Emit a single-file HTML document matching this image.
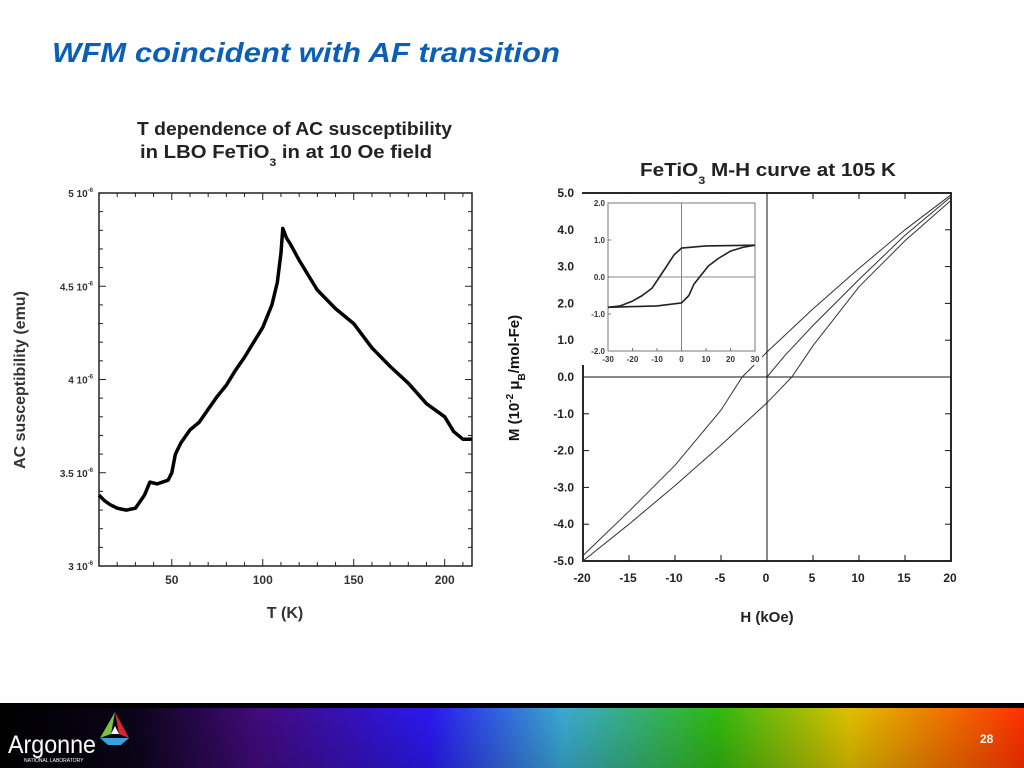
<!DOCTYPE html>
<html><head><meta charset="utf-8"><style>
html,body{margin:0;padding:0;background:#fff;}
svg{display:block;font-family:"Liberation Sans",sans-serif;}
</style></head><body>
<svg width="1024" height="768" viewBox="0 0 1024 768">
<defs>
<linearGradient id="rb" x1="0" x2="1" y1="0" y2="0">
<stop offset="0" stop-color="#000"/><stop offset="0.13" stop-color="#0a0418"/><stop offset="0.25" stop-color="#420a7a"/>
<stop offset="0.42" stop-color="#2a18f0"/><stop offset="0.55" stop-color="#3aaad0"/><stop offset="0.7" stop-color="#30b810"/>
<stop offset="0.83" stop-color="#e0c000"/><stop offset="1" stop-color="#ff3000"/></linearGradient>
<linearGradient id="fade" x1="0" x2="0" y1="0" y2="1"><stop offset="0" stop-color="#000" stop-opacity="0"/><stop offset="1" stop-color="#000" stop-opacity="0.15"/></linearGradient>
</defs>
<text x="52" y="62" font-size="28" font-weight="bold" font-style="italic" fill="#0b5fb8" textLength="508" lengthAdjust="spacingAndGlyphs">WFM coincident with AF transition</text>

<g font-weight="bold" font-size="18" fill="#222">
<text x="137" y="135" textLength="315" lengthAdjust="spacingAndGlyphs">T dependence of AC susceptibility</text>
<text x="140" y="158" textLength="292" lengthAdjust="spacingAndGlyphs">in LBO FeTiO<tspan font-size="11" dy="8">3</tspan><tspan dy="-8"> in at 10 Oe field</tspan></text>
</g>
<g font-weight="bold" font-size="18" fill="#222">
<text x="640" y="176" textLength="256" lengthAdjust="spacingAndGlyphs">FeTiO<tspan font-size="11" dy="8">3</tspan><tspan dy="-8"> M-H curve at 105 K</tspan></text>
</g>

<g id="left"></g>
<g id="right"></g>

<g>
<rect x="0" y="703" width="1024" height="65" fill="url(#rb)"/>
<rect x="0" y="703" width="1024" height="5" fill="#000"/>
<rect x="0" y="708" width="1024" height="60" fill="url(#fade)"/>
<text x="8" y="753" font-size="25" fill="#fff" textLength="88" lengthAdjust="spacingAndGlyphs">Argonne</text>
<text x="24" y="762" font-size="5" fill="#fff">NATIONAL LABORATORY</text>
<g>
<polygon points="115,712 100,738 111,734" fill="#7bc143"/>
<polygon points="115,712 129,738 119,734" fill="#d8262e"/>
<polygon points="111,734 119,734 115,726" fill="#fff"/>
<polygon points="100,738 129,738 121,745 108,745" fill="#3aa0e0"/>
</g>
<text x="980" y="743" font-size="12" font-weight="bold" fill="#fff">28</text>
</g>
</svg>
<script>
// Left chart data
const tempK = [10,13,16,20,25,30,35,38,42,48,50,52,55,60,65,70,75,80,85,90,95,100,105,108,110,111,113,115,120,125,130,140,150,160,170,180,190,200,205,210,215];
const chiE6 = [3.38,3.35,3.33,3.31,3.30,3.31,3.38,3.45,3.44,3.46,3.50,3.60,3.66,3.73,3.77,3.84,3.91,3.97,4.05,4.12,4.20,4.28,4.40,4.52,4.68,4.81,4.76,4.73,4.64,4.56,4.48,4.38,4.30,4.17,4.07,3.98,3.87,3.80,3.72,3.68,3.68];
const leftXTicks = [50,100,150,200];
const leftYTicks = [3,3.5,4,4.5,5];
const leftYLabels = ["3 10","3.5 10","4 10","4.5 10","5 10"];
// Right chart data
const hDesc = [20,15,10,5,0,-2.7,-5,-10,-15,-20];
const mDesc = [4.95,4.0,2.95,1.85,0.68,0,-0.9,-2.4,-3.65,-4.85];
const hAsc = [-20,-15,-10,-5,0,2.7,5,10,15,20];
const mAsc = [-5.0,-4.0,-2.95,-1.85,-0.7,0,0.85,2.45,3.7,4.8];
const hVirgin = [0,2,5,10,15,20];
const mVirgin = [0,0.6,1.4,2.65,3.85,4.9];
const insetHDesc = [30,20,10,0,-3,-6,-9,-12,-16,-20,-25,-30];
const insetMDesc = [0.86,0.85,0.84,0.78,0.6,0.3,0,-0.3,-0.5,-0.65,-0.78,-0.82];
const insetHAsc = [-30,-20,-10,0,3,5,8,11,15,20,25,30];
const insetMAsc = [-0.82,-0.8,-0.78,-0.7,-0.5,-0.2,0.05,0.3,0.5,0.7,0.8,0.86];
const rightXTicks = [-20,-15,-10,-5,0,5,10,15,20];
const rightYTicks = [-5,-4,-3,-2,-1,0,1,2,3,4,5];
const insetXTicks = [-30,-20,-10,0,10,20,30];
const insetYTicks = [-2,-1,0,1,2];

const NS="http://www.w3.org/2000/svg";
function mk(parent,tag,attrs,text){const e=document.createElementNS(NS,tag);for(const k in attrs)e.setAttribute(k,attrs[k]);if(text!==undefined)e.textContent=text;parent.appendChild(e);return e;}
function lin(d0,d1,r0,r1){return v=>r0+(v-d0)/(d1-d0)*(r1-r0);}
function pathOf(xs,ys,fx,fy){return xs.map((x,i)=>(i?"L":"M")+fx(x).toFixed(1)+","+fy(ys[i]).toFixed(1)).join("");}

// LEFT
(function(){
const g=document.getElementById('left');
const L=99,R=472,T=193,B=566;
const x=lin(10,215,L,R), y=lin(3,5,B,T);
let e=mk(g,'rect',{x:L,y:T,width:R-L,height:B-T,fill:'none',stroke:'#222','stroke-width':1.5});

for(let t=20;t<=210;t+=10){const big=t%50===0;mk(g,'line',{x1:x(t),x2:x(t),y1:B,y2:B-(big?7:4),stroke:'#222'});mk(g,'line',{x1:x(t),x2:x(t),y1:T,y2:T+(big?7:4),stroke:'#222'});}
for(let v=3.1;v<5;v+=0.1){const big=Math.abs(v*2-Math.round(v*2))<0.01;mk(g,'line',{x1:L,x2:L+(big?7:4),y1:y(v),y2:y(v),stroke:'#222'});mk(g,'line',{x1:R,x2:R-(big?7:4),y1:y(v),y2:y(v),stroke:'#222'});}
leftXTicks.forEach(t=>{e=mk(g,'text',{x:x(t),y:B+18,'font-size':12,'font-weight':'bold','text-anchor':'middle',fill:'#333'},t);
});
leftYTicks.forEach((v,i)=>{e=mk(g,'text',{x:L-6,y:y(v)+4,'font-size':10,'font-weight':'bold','text-anchor':'end',fill:'#333'});
mk(e,'tspan',{},leftYLabels[i]);mk(e,'tspan',{'font-size':6,dy:-5},'-6');
});
e=mk(g,'path',{d:pathOf(tempK,chiE6,x,y),fill:'none',stroke:'#000','stroke-width':3.5,'stroke-linejoin':'round'});

e=mk(g,'text',{x:285,y:618,'font-size':16,'font-weight':'bold','text-anchor':'middle',fill:'#333'},'T (K)');

e=mk(g,'text',{x:0,y:0,'font-size':16,'font-weight':'bold','text-anchor':'middle',fill:'#333',transform:'translate(25,380) rotate(-90)'},'AC susceptibility (emu)');

})();

// RIGHT
(function(){
const g=document.getElementById('right');
const L=583,R=951,T=193,B=561;
const x=lin(-20,20,L,R), y=lin(-5,5,B,T);
let e=mk(g,'rect',{x:L,y:T,width:R-L,height:B-T,fill:'none',stroke:'#111','stroke-width':1.8});

mk(g,'line',{x1:L,x2:R,y1:y(0),y2:y(0),stroke:'#111','stroke-width':1});
rightXTicks.forEach(t=>{mk(g,'line',{x1:x(t),x2:x(t),y1:B,y2:B-6,stroke:'#111'});mk(g,'line',{x1:x(t),x2:x(t),y1:T,y2:T+6,stroke:'#111'});
e=mk(g,'text',{x:x(t)-1,y:B+21,'font-size':12,'font-weight':'bold','text-anchor':'middle',fill:'#222'},t);
});
rightYTicks.forEach(v=>{mk(g,'line',{x1:L,x2:L+6,y1:y(v),y2:y(v),stroke:'#111'});mk(g,'line',{x1:R,x2:R-6,y1:y(v),y2:y(v),stroke:'#111'});
e=mk(g,'text',{x:L-9,y:y(v)+4,'font-size':12,'font-weight':'bold','text-anchor':'end',fill:'#222'},v.toFixed(1));
});
[[hDesc,mDesc,'descending-branch'],[hAsc,mAsc,'ascending-branch'],[hVirgin,mVirgin,'virgin-curve']].forEach(s=>{
e=mk(g,'path',{d:pathOf(s[0],s[1],x,y),fill:'none',stroke:'#333','stroke-width':1});
});
e=mk(g,'text',{x:767,y:622,'font-size':15,'font-weight':'bold','text-anchor':'middle',fill:'#222'},'H (kOe)');

e=mk(g,'text',{x:0,y:0,'font-size':15,'font-weight':'bold','text-anchor':'middle',fill:'#111',transform:'translate(519,378) rotate(-90)'});
mk(e,'tspan',{},'M (10');mk(e,'tspan',{'font-size':10,dy:-6},'-2');mk(e,'tspan',{dy:6},' μ');mk(e,'tspan',{'font-size':10,dy:6},'B');mk(e,'tspan',{dy:-6},'/mol-Fe)');

// inset
const iL=608,iR=755,iT=203,iB=351;
const ix=lin(-30,30,iL,iR), iy=lin(-2,2,iB,iT);
const ig=mk(g,'g',{});

mk(ig,'rect',{x:iL-28,y:T+1,width:iR-iL+35,height:iB-T+13,fill:'#fff'});
mk(ig,'rect',{x:iL,y:iT,width:iR-iL,height:iB-iT,fill:'none',stroke:'#777','stroke-width':1});
mk(ig,'line',{x1:ix(0),x2:ix(0),y1:iT,y2:iB,stroke:'#888'});
mk(ig,'line',{x1:iL,x2:iR,y1:iy(0),y2:iy(0),stroke:'#888'});
insetXTicks.forEach(t=>{mk(ig,'line',{x1:ix(t),x2:ix(t),y1:iB,y2:iB-3,stroke:'#777'});
e=mk(ig,'text',{x:ix(t),y:iB+11,'font-size':8,'font-weight':'bold','text-anchor':'middle',fill:'#333'},t);
});
insetYTicks.forEach(v=>{mk(ig,'line',{x1:iL,x2:iL+3,y1:iy(v),y2:iy(v),stroke:'#777'});
e=mk(ig,'text',{x:iL-3,y:iy(v)+3,'font-size':8,'font-weight':'bold','text-anchor':'end',fill:'#333'},v.toFixed(1));
});
[[insetHDesc,insetMDesc,'inset-descending-branch'],[insetHAsc,insetMAsc,'inset-ascending-branch']].forEach(s=>{
e=mk(ig,'path',{d:pathOf(s[0],s[1],ix,iy),fill:'none',stroke:'#222','stroke-width':1.6,'stroke-linejoin':'round'});
});
e=mk(g,'line',{x1:x(0),x2:x(0),y1:T,y2:B,stroke:'#111','stroke-width':1});

})();
</script>
</body></html>
